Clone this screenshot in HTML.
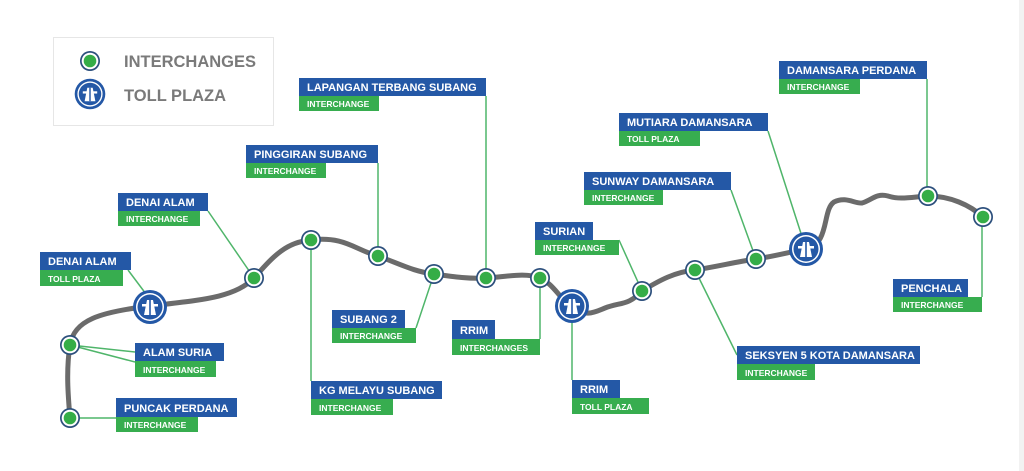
<!DOCTYPE html>
<html><head><meta charset="utf-8"><style>
html,body{margin:0;padding:0;background:#fff;}
svg{display:block;font-family:"Liberation Sans",Arial,sans-serif;}
.b{fill:#2458a6}.g{fill:#37ad4f}
.t1{fill:#fff;font-weight:bold;font-size:11px}
.t2{fill:#fff;font-weight:bold;font-size:8.5px}
.c{stroke:#4fb56a;stroke-width:1.5;fill:none}
</style></head><body>
<svg width="1024" height="471" viewBox="0 0 1024 471" xmlns="http://www.w3.org/2000/svg">
<defs>
<g id="n"><circle r="10" fill="#2c4f7c"/><circle r="8.3" fill="#fff"/><circle r="6.3" fill="#35ad47"/></g>
<g id="tp"><circle r="17" fill="#2458a6"/><circle r="14" fill="#fff"/><circle r="12.5" fill="#2458a6"/>
<path d="M-3,-7 L3,-7 L6,8 L-6,8 Z" fill="#fff"/><rect x="-8" y="-3" width="16" height="2.5" fill="#fff"/><rect x="-0.8" y="-7" width="1.6" height="15" fill="#2458a6"/></g>
</defs>
<rect x="1019" y="0" width="5" height="471" fill="#f2f2f2"/>
<!-- legend -->
<rect x="53.5" y="37.5" width="220" height="88" fill="#fff" stroke="#e6e6e6"/>
<use href="#n" x="90" y="61"/>
<g transform="translate(90,94) scale(0.9)"><use href="#tp"/></g>
<text x="124" y="67" font-size="16.5" font-weight="bold" fill="#7a7a7a">INTERCHANGES</text>
<text x="124" y="101" font-size="16.5" font-weight="bold" fill="#7a7a7a">TOLL PLAZA</text>
<!-- road -->
<path d="M70,418 C68,395 66,370 70,345 C74,320 100,312 150,306 C200,300 235,298 254,278 C272,258 285,242 311,240 C345,236 355,250 378,256 C400,264 415,272 434,274 C455,277 470,279 486,278 C505,277 525,272 540,278 C555,285 560,300 572,306 C585,318 595,312 605,308 C620,302 628,306 642,291 C660,280 675,272 695,270 C720,266 735,262 756,259 C775,256 790,252 806,249 C830,244 822,210 834,202 C846,196 855,204 862,203 C872,200 876,193 888,196 C900,200 912,197 928,196 C950,196 970,205 983,217" fill="none" stroke="#6b6b6b" stroke-width="5" stroke-linecap="round"/>
<!-- connectors -->
<path class="c" d="M486,96 V278"/><path class="c" d="M378,163 V256"/>
<path class="c" d="M208,211 L254,278"/><path class="c" d="M128,270 L146,294"/>
<path class="c" d="M70,345 L135,362 M70,345 L135,352"/><path class="c" d="M70,418 H116"/>
<path class="c" d="M416,328 L434,274"/><path class="c" d="M311,240 V381"/>
<path class="c" d="M540,278 V339"/><path class="c" d="M572,306 V380"/>
<path class="c" d="M619,240 L642,291"/><path class="c" d="M731,190 L756,259"/>
<path class="c" d="M768,131 L806,249"/><path class="c" d="M927,79 V196"/>
<path class="c" d="M695,270 L737,355"/><path class="c" d="M982,297 V217"/>
<!-- nodes -->
<use href="#n" x="70" y="418"/><use href="#n" x="70" y="345"/>
<use href="#tp" x="150" y="307"/>
<use href="#n" x="254" y="278"/><use href="#n" x="311" y="240"/><use href="#n" x="378" y="256"/>
<use href="#n" x="434" y="274"/><use href="#n" x="486" y="278"/><use href="#n" x="540" y="278"/>
<use href="#tp" x="572" y="306"/>
<use href="#n" x="642" y="291"/><use href="#n" x="695" y="270"/><use href="#n" x="756" y="259"/>
<use href="#tp" x="806" y="249"/>
<use href="#n" x="928" y="196"/><use href="#n" x="983" y="217"/>
<!-- labels -->
<g>
<rect class="b" x="299" y="78" width="187" height="18"/><rect class="g" x="299" y="96" width="80" height="15"/>
<text class="t1" x="307" y="91">LAPANGAN TERBANG SUBANG</text><text class="t2" x="307" y="107">INTERCHANGE</text>

<rect class="b" x="246" y="145" width="132" height="18"/><rect class="g" x="246" y="163" width="80" height="15"/>
<text class="t1" x="254" y="158">PINGGIRAN SUBANG</text><text class="t2" x="254" y="174">INTERCHANGE</text>

<rect class="b" x="118" y="193" width="90" height="18"/><rect class="g" x="118" y="211" width="82" height="15"/>
<text class="t1" x="126" y="206">DENAI ALAM</text><text class="t2" x="126" y="222">INTERCHANGE</text>

<rect class="b" x="40" y="252" width="91" height="18"/><rect class="g" x="40" y="270" width="83" height="16"/>
<text class="t1" x="48" y="265">DENAI ALAM</text><text class="t2" x="48" y="282">TOLL PLAZA</text>

<rect class="b" x="135" y="343" width="89" height="18"/><rect class="g" x="135" y="361" width="81" height="16"/>
<text class="t1" x="143" y="356">ALAM SURIA</text><text class="t2" x="143" y="373">INTERCHANGE</text>

<rect class="b" x="116" y="398" width="121" height="19"/><rect class="g" x="116" y="417" width="82" height="15"/>
<text class="t1" x="124" y="412">PUNCAK PERDANA</text><text class="t2" x="124" y="428">INTERCHANGE</text>

<rect class="b" x="332" y="310" width="73" height="18"/><rect class="g" x="332" y="328" width="84" height="15"/>
<text class="t1" x="340" y="323">SUBANG 2</text><text class="t2" x="340" y="339">INTERCHANGE</text>

<rect class="b" x="311" y="381" width="131" height="18"/><rect class="g" x="311" y="399" width="82" height="16"/>
<text class="t1" x="319" y="394">KG MELAYU SUBANG</text><text class="t2" x="319" y="411">INTERCHANGE</text>

<rect class="b" x="452" y="320" width="43" height="19"/><rect class="g" x="452" y="339" width="88" height="16"/>
<text class="t1" x="460" y="334">RRIM</text><text class="t2" x="460" y="351">INTERCHANGES</text>

<rect class="b" x="572" y="380" width="48" height="18"/><rect class="g" x="572" y="398" width="77" height="16"/>
<text class="t1" x="580" y="393">RRIM</text><text class="t2" x="580" y="410">TOLL PLAZA</text>

<rect class="b" x="535" y="222" width="58" height="18"/><rect class="g" x="535" y="240" width="84" height="15"/>
<text class="t1" x="543" y="235">SURIAN</text><text class="t2" x="543" y="251">INTERCHANGE</text>

<rect class="b" x="584" y="172" width="147" height="18"/><rect class="g" x="584" y="190" width="79" height="15"/>
<text class="t1" x="592" y="185">SUNWAY DAMANSARA</text><text class="t2" x="592" y="201">INTERCHANGE</text>

<rect class="b" x="619" y="113" width="149" height="18"/><rect class="g" x="619" y="131" width="81" height="15"/>
<text class="t1" x="627" y="126">MUTIARA DAMANSARA</text><text class="t2" x="627" y="142">TOLL PLAZA</text>

<rect class="b" x="779" y="61" width="148" height="18"/><rect class="g" x="779" y="79" width="81" height="15"/>
<text class="t1" x="787" y="74">DAMANSARA PERDANA</text><text class="t2" x="787" y="90">INTERCHANGE</text>

<rect class="b" x="737" y="346" width="183" height="18"/><rect class="g" x="737" y="364" width="78" height="16"/>
<text class="t1" x="745" y="359">SEKSYEN 5 KOTA DAMANSARA</text><text class="t2" x="745" y="376">INTERCHANGE</text>

<rect class="b" x="893" y="279" width="75" height="18"/><rect class="g" x="893" y="297" width="89" height="15"/>
<text class="t1" x="901" y="292">PENCHALA</text><text class="t2" x="901" y="308">INTERCHANGE</text>
</g>
</svg>
</body></html>
